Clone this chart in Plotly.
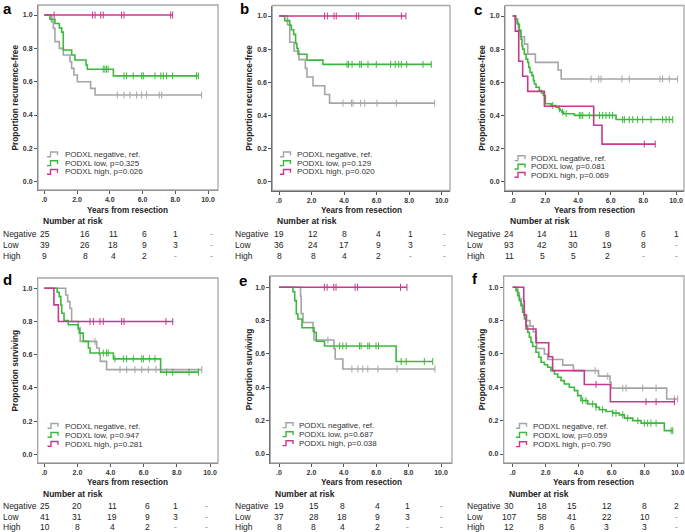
import plotly.graph_objects as go

W, H = 685, 532
FONT = "Liberation Sans, Arial, sans-serif"
C_NEG, C_LOW, C_HIGH = "#a5a5a5", "#3cb83c", "#c8388c"

# ---------------- shared labels ----------------
x_tick_vals = [0, 2, 4, 6, 8, 10]
x_tick_text = [".0", "2.0", "4.0", "6.0", "8.0", "10.0"]
y_tick_vals = [0, 0.2, 0.4, 0.6, 0.8, 1.0]
y_tick_text = ["0.0", "0.2", "0.4", "0.6", "0.8", "1.0"]
group_labels = ["Negative", "Low", "High"]
panel_letters = ["a", "b", "c", "d", "e", "f"]
y_titles = ["Proportion recurrence-free"] * 3 + ["Proportion surviving"] * 3
x_title = "Years from resection"

# ---------------- panel a ----------------
a_neg_t = [0.45, 0.55, 0.65, 0.92, 1.16, 1.57, 1.67, 1.81, 2.02, 2.83, 3.1]
a_neg_s = [0.96, 0.92, 0.84, 0.80, 0.76, 0.72, 0.68, 0.64, 0.60, 0.56, 0.52]
a_neg_c = [4.46, 4.87, 5.23, 5.64, 5.95, 6.25, 7.02, 7.17, 9.61]
a_low_t = [0.35, 0.65, 0.92, 1.06, 1.16, 1.67, 1.87, 2.55, 2.63, 4.22]
a_low_s = [0.974, 0.949, 0.923, 0.897, 0.79, 0.76, 0.73, 0.70, 0.675, 0.635]
a_low_c = [3.6, 3.7, 3.8, 3.9, 4.87, 5.03, 5.43, 5.95, 6.05, 6.76, 7.12, 7.27, 7.47, 7.84, 9.3, 9.41]
a_high_t = []
a_high_s = []
a_high_c = [0.6, 2.95, 3.1, 3.45, 3.6, 4.72, 4.87, 7.72, 7.84]
a_p = ["0.325", "0.026"]
a_risk_neg = ["25", "16", "11", "6", "1", "-"]
a_risk_low = ["39", "26", "18", "9", "3", "-"]
a_risk_high = ["9", "8", "4", "2", "-", "-"]

# ---------------- panel b ----------------
b_neg_t = [0.52, 0.66, 0.92, 1.23, 1.62, 1.72, 2.09, 2.81, 3.11]
b_neg_s = [0.947, 0.842, 0.789, 0.737, 0.684, 0.632, 0.579, 0.526, 0.474]
b_neg_c = [3.93, 4.45, 4.55, 5.02, 5.27, 6.02, 7.21, 9.57]
b_low_t = [0.35, 0.66, 0.76, 0.9, 1.02, 1.1, 1.17, 1.72, 2.7]
b_low_s = [0.972, 0.944, 0.917, 0.889, 0.835, 0.805, 0.769, 0.734, 0.708]
b_low_c = [4.18, 4.28, 4.49, 4.96, 5.06, 5.47, 5.98, 6.86, 7.15, 7.36, 7.52, 7.85, 8.85, 9.36]
b_high_t = []
b_high_s = []
b_high_c = [2.8, 2.97, 3.38, 3.52, 4.75, 4.9, 7.52, 7.8]
b_p = ["0.129", "0.020"]
b_risk_neg = ["19", "12", "8", "4", "1", "-"]
b_risk_low = ["36", "24", "17", "9", "3", "-"]
b_risk_high = ["8", "8", "4", "2", "-", "-"]

# ---------------- panel c ----------------
c_neg_t = [0.2, 0.35, 0.47, 0.72, 0.92, 1.39, 2.78, 2.97]
c_neg_s = [0.958, 0.917, 0.875, 0.83, 0.77, 0.72, 0.674, 0.62]
c_neg_c = [4.8, 5.27, 5.41, 6.69, 7.14, 9.02, 9.18, 9.59, 10.1]
c_low_t = [0.16, 0.3, 0.41, 0.51, 0.57, 0.61, 0.71, 0.82, 0.92, 0.98, 1.06, 1.18, 1.27, 1.33,
           1.43, 1.63, 1.76, 1.88, 2.0, 2.35, 2.65, 2.82, 2.9, 3.02, 3.12, 3.78, 6.33]
c_low_s = [0.98, 0.95, 0.91, 0.86, 0.82, 0.80, 0.77, 0.74, 0.72, 0.69, 0.66, 0.64, 0.61, 0.59,
           0.57, 0.55, 0.535, 0.52, 0.47, 0.46, 0.45, 0.44, 0.43, 0.42, 0.41, 0.40, 0.375]
c_low_c = [2.45, 2.86, 3.06, 3.27, 4.08, 4.18, 4.29, 4.69, 5.31, 5.51, 5.71, 5.92, 6.12, 6.73,
           6.84, 7.14, 7.35, 7.65, 7.96, 8.47, 9.18, 9.39, 9.59, 9.8]
c_high_t = [0.16, 0.37, 0.61, 0.92, 1.94, 4.96, 5.47]
c_high_s = [0.909, 0.727, 0.636, 0.545, 0.455, 0.341, 0.227]
c_high_c = [8.06, 8.73]
c_p = ["0.081", "0.069"]
c_risk_neg = ["24", "14", "11", "8", "6", "1"]
c_risk_low = ["93", "42", "30", "19", "8", "-"]
c_risk_high = ["11", "5", "5", "2", "-", "-"]

# ---------------- panel d ----------------
d_neg_t = [1.29, 1.41, 1.55, 1.65, 2.05, 2.17, 3.16, 3.32, 3.38, 3.76]
d_neg_s = [0.96, 0.92, 0.88, 0.80, 0.76, 0.68, 0.64, 0.60, 0.56, 0.51]
d_neg_c = [3.06, 4.57, 4.97, 5.47, 5.88, 6.28, 6.74, 9.5]
d_low_t = [0.78, 0.9, 1.0, 1.05, 1.19, 1.45, 2.05, 2.11, 2.35, 2.66, 2.76, 4.17, 7.02]
d_low_s = [0.976, 0.95, 0.90, 0.85, 0.805, 0.78, 0.755, 0.73, 0.68, 0.64, 0.61, 0.575, 0.495]
d_low_c = [3.56, 3.76, 3.86, 4.26, 4.77, 4.97, 5.37, 5.88, 5.98, 6.34, 6.68, 7.38, 7.75, 8.73, 9.3]
d_high_t = [0.58, 0.85]
d_high_s = [0.9, 0.8]
d_high_c = [2.76, 2.96, 3.36, 3.56, 4.67, 4.81, 7.34, 7.75]
d_p = ["0.947", "0.281"]
d_risk_neg = ["25", "20", "11", "6", "1", "-"]
d_risk_low = ["41", "31", "19", "9", "3", "-"]
d_risk_high = ["10", "8", "4", "2", "-", "-"]

# ---------------- panel e ----------------
e_neg_t = [1.33, 1.37, 1.48, 2.1, 2.16, 3.39, 3.47, 3.94]
e_neg_s = [0.947, 0.842, 0.789, 0.737, 0.684, 0.632, 0.57, 0.51]
e_neg_c = [3.02, 4.5, 4.87, 5.17, 5.48, 6.1, 7.29, 9.63]
e_low_t = [0.86, 0.97, 1.07, 1.17, 1.42, 2.16, 2.3, 2.81, 7.23]
e_low_s = [0.973, 0.92, 0.84, 0.81, 0.757, 0.73, 0.676, 0.648, 0.555]
e_low_c = [3.74, 3.94, 4.15, 4.97, 5.07, 5.48, 5.58, 5.99, 6.14, 7.54, 7.85, 8.97, 9.49]
e_high_t = []
e_high_s = []
e_high_c = [2.8, 2.97, 3.38, 3.52, 4.7, 4.85, 7.5, 7.9]
e_p = ["0.687", "0.038"]
e_risk_neg = ["19", "15", "8", "4", "1", "-"]
e_risk_low = ["37", "28", "18", "9", "3", "-"]
e_risk_high = ["8", "8", "4", "2", "-", "-"]

# ---------------- panel f ----------------
f_neg_t = [0.3, 0.4, 0.5, 0.6, 0.71, 0.85, 1.05, 1.25, 1.41, 1.45, 1.92, 2.12, 3.03, 3.68,
           5.2, 5.9, 5.96, 9.33]
f_neg_s = [0.967, 0.933, 0.9, 0.867, 0.833, 0.8, 0.767, 0.733, 0.70, 0.633, 0.60, 0.567,
           0.533, 0.50, 0.467, 0.43, 0.395, 0.33]
f_neg_c = [5.0, 5.76, 6.67, 6.87, 7.88, 8.69, 9.8, 10.0]
f_low_t = [0.2, 0.3, 0.4, 0.5, 0.6, 0.71, 0.81, 0.91, 1.01, 1.11, 1.21, 1.41, 1.58, 1.72, 1.92,
           2.12, 2.32, 2.53, 2.73, 2.93, 3.13, 3.43, 3.74, 3.94, 4.14, 4.55, 5.05, 5.25, 5.66,
           6.06, 6.46, 6.77, 7.27, 7.78, 9.19]
f_low_s = [0.98, 0.95, 0.92, 0.89, 0.85, 0.81, 0.77, 0.73, 0.70, 0.67, 0.645, 0.61, 0.58, 0.55,
           0.535, 0.52, 0.50, 0.48, 0.46, 0.44, 0.42, 0.40, 0.38, 0.35, 0.32, 0.30, 0.28, 0.265,
           0.255, 0.245, 0.235, 0.215, 0.20, 0.185, 0.14]
f_low_c = [4.24, 4.44, 4.85, 5.05, 5.45, 6.06, 6.26, 6.67, 6.97, 7.58, 7.98, 8.18, 8.38, 8.69,
           9.6, 9.7]
f_high_t = [0.67, 0.7, 0.81, 1.41, 2.18, 2.42, 4.34, 5.92]
f_high_s = [0.917, 0.833, 0.75, 0.667, 0.583, 0.5, 0.417, 0.313]
f_high_c = [5.05, 8.08, 8.69, 9.8]
f_p = ["0.059", "0.790"]
f_risk_neg = ["30", "18", "15", "12", "8", "2"]
f_risk_low = ["107", "58", "41", "22", "10", "-"]
f_risk_high = ["12", "8", "6", "3", "3", "-"]

panels_data = [
    (a_neg_t, a_neg_s, a_neg_c, a_low_t, a_low_s, a_low_c, a_high_t, a_high_s, a_high_c, a_p,
     a_risk_neg, a_risk_low, a_risk_high),
    (b_neg_t, b_neg_s, b_neg_c, b_low_t, b_low_s, b_low_c, b_high_t, b_high_s, b_high_c, b_p,
     b_risk_neg, b_risk_low, b_risk_high),
    (c_neg_t, c_neg_s, c_neg_c, c_low_t, c_low_s, c_low_c, c_high_t, c_high_s, c_high_c, c_p,
     c_risk_neg, c_risk_low, c_risk_high),
    (d_neg_t, d_neg_s, d_neg_c, d_low_t, d_low_s, d_low_c, d_high_t, d_high_s, d_high_c, d_p,
     d_risk_neg, d_risk_low, d_risk_high),
    (e_neg_t, e_neg_s, e_neg_c, e_low_t, e_low_s, e_low_c, e_high_t, e_high_s, e_high_c, e_p,
     e_risk_neg, e_risk_low, e_risk_high),
    (f_neg_t, f_neg_s, f_neg_c, f_low_t, f_low_s, f_low_c, f_high_t, f_high_s, f_high_c, f_p,
     f_risk_neg, f_risk_low, f_risk_high),
]

# ---------------- layout geometry (pixels) ----------------
# frame box L, R, T, B ; pixel of x=0, x=10, y=1, y=0
frames = [
    (38, 218, 5, 190, 44.3, 208, 15, 181.7),
    (272.3, 450, 5.5, 190.5, 279, 441.7, 16, 181.7),
    (505, 684, 5.5, 190.5, 512.7, 676, 16, 181.7),
    (37.7, 218, 278, 463, 44.3, 210, 288.3, 454.3),
    (270.3, 452, 276, 463, 279, 441, 287.3, 454),
    (503.7, 684, 276, 463, 512.7, 677.7, 287.3, 454),
]
# risk-table column centres (data units) per panel
risk_cols = [
    [0.04, 2.5, 4.2, 6.1, 8.0, 10.2],
    [0.0, 2.1, 4.0, 6.1, 8.1, 10.2],
    [-0.2, 1.8, 3.7, 5.8, 8.0, 10.0],
    [0.04, 2.0, 4.1, 6.2, 7.9, 9.8],
    [0.0, 2.15, 3.9, 6.1, 7.95, 10.0],
    [-0.25, 1.75, 3.6, 5.7, 8.0, 9.9],
]
row_label_x = [0.5, 233, 465, 0.5, 233, 465]
ytitle_x = [14, 248.7, 481.7, 14, 248.7, 481.7]
letter_pos = [(7.5, 9), (244, 8.5), (477.5, 9.5), (7.5, 279), (243, 280.5), (475, 278.5)]
table_y = [(210, 221.5, 234, 245, 256)] * 3 + [(482.5, 493.5, 506, 516.7, 527)] * 3
legend_pos = [
    (47, 62.7, [154.5, 163.3, 172]),
    (280, 294.7, [154.5, 163.3, 172]),
    (514.5, 528.7, [158.3, 166.7, 175]),
    (47.5, 62.7, [426, 435, 444]),
    (282.5, 297, [425.3, 434.3, 443.3]),
    (516, 531, [426, 435, 444.3]),
]


def px(x):
    return x / W


def py(y):
    return 1 - y / H


def step_curve(t, s, c):
    end = max(list(c) + list(t))
    xs = [0] + list(t) + [end]
    ys = [1.0] + list(s) + [s[-1] if s else 1.0]
    return xs, ys


def surv_at(t, s, x):
    v = 1.0
    for ti, si in zip(t, s):
        if ti <= x:
            v = si
    return v


fig = go.Figure()
annotations = []
shapes = []
colors = [C_NEG, C_LOW, C_HIGH]

for i, pdat in enumerate(panels_data):
    xa = "x" if i == 0 else f"x{i+1}"
    ya = "y" if i == 0 else f"y{i+1}"
    L, R, T, B, x0p, x10p, y1p, y0p = frames[i]
    sx = (x10p - x0p) / 10.0
    sy = (y0p - y1p)
    xr = [(L - x0p) / sx, (R - x0p) / sx]
    yr = [(y0p - B) / sy, (y0p - T) / sy]

    groups = [(pdat[0], pdat[1], pdat[2]), (pdat[3], pdat[4], pdat[5]), (pdat[6], pdat[7], pdat[8])]
    for g, (t, s, c) in enumerate(groups):
        xs, ys = step_curve(t, s, c)
        fig.add_trace(go.Scatter(x=xs, y=ys, mode="lines", xaxis=xa, yaxis=ya,
                                 line=dict(shape="hv", width=1.6, color=colors[g]),
                                 showlegend=False, hoverinfo="skip"))
        fig.add_trace(go.Scatter(x=c, y=[surv_at(t, s, ci) for ci in c], mode="markers",
                                 xaxis=xa, yaxis=ya, showlegend=False, hoverinfo="skip",
                                 marker=dict(symbol="line-ns", size=5,
                                             line=dict(width=1, color=colors[g]))))

    key = "" if i == 0 else str(i + 1)
    fig.layout["xaxis" + key] = dict(
        domain=[px(L), px(R)], range=xr, anchor=ya, tickvals=x_tick_vals, ticktext=x_tick_text,
        ticks="outside", ticklen=3, tickcolor="#555", showline=True, linecolor="#555",
        linewidth=1, showgrid=False, zeroline=False,
        tickfont=dict(size=7, color="#333", family=FONT, weight="bold"))
    fig.layout["yaxis" + key] = dict(
        domain=[py(B), py(T)], range=yr, anchor=xa, tickvals=y_tick_vals, ticktext=y_tick_text,
        ticks="outside", ticklen=3, tickcolor="#555", showline=True, linecolor="#555",
        linewidth=1, showgrid=False, zeroline=False,
        tickfont=dict(size=7, color="#333", family=FONT, weight="bold"))

    # grey frame
    shapes.append(dict(type="rect", xref=xa + " domain", yref=ya + " domain", x0=0, x1=1,
                       y0=0, y1=1, line=dict(color="#a8a8a8", width=1.3), layer="above"))

    # axis titles
    ty, tn, r1, r2, r3 = table_y[i]
    annotations.append(dict(text=x_title, x=px((L + R) / 2), y=py(ty), xref="paper",
                            yref="paper", showarrow=False, xanchor="center", yanchor="middle",
                            font=dict(size=8.2, family=FONT, color="#222", weight="bold")))
    annotations.append(dict(text=y_titles[i], x=px(ytitle_x[i]), y=py((T + B) / 2),
                            xref="paper", yref="paper", showarrow=False, textangle=-90,
                            xanchor="center", yanchor="middle",
                            font=dict(size=8.3, family=FONT, color="#222", weight="bold")))
    # panel letter
    lx, ly = letter_pos[i]
    annotations.append(dict(text=panel_letters[i], x=px(lx), y=py(ly), xref="paper",
                            yref="paper", showarrow=False, xanchor="center", yanchor="middle",
                            font=dict(size=15, family=FONT, color="#000", weight="bold")))
    # risk table
    annotations.append(dict(text="Number at risk", x=px(L + 3), y=py(tn), xref="paper",
                            yref="paper", showarrow=False, xanchor="left", yanchor="middle",
                            font=dict(size=8.5, family=FONT, color="#222", weight="bold")))
    rows = [pdat[10], pdat[11], pdat[12]]
    for r, (vals, ry) in enumerate(zip(rows, [r1, r2, r3])):
        annotations.append(dict(text=group_labels[r], x=px(row_label_x[i]), y=py(ry),
                                xref="paper", yref="paper", showarrow=False, xanchor="left",
                                yanchor="middle",
                                font=dict(size=8.5, family=FONT, color="#222")))
        for cx, v in zip(risk_cols[i], vals):
            annotations.append(dict(text=v, x=cx, y=py(ry), xref=xa, yref="paper",
                                    showarrow=False, xanchor="center", yanchor="middle",
                                    font=dict(size=8.5, family=FONT,
                                              color="#888" if v == "-" else "#222")))
    # legend
    gx, tx, lys = legend_pos[i]
    leg_texts = ["PODXL negative, ref.", f"PODXL low, p={pdat[9][0]}",
                 f"PODXL high, p={pdat[9][1]}"]
    for g in range(3):
        yc = lys[g]
        path = (f"M {px(gx)},{py(yc + 2.3)} L {px(gx + 3.5)},{py(yc + 2.3)} "
                f"L {px(gx + 3.5)},{py(yc - 2.5)} L {px(gx + 10.5)},{py(yc - 2.5)} "
                f"L {px(gx + 10.5)},{py(yc + 0.8)}")
        shapes.append(dict(type="path", path=path, xref="paper", yref="paper",
                           line=dict(color=colors[g], width=1.4), layer="above"))
        annotations.append(dict(text=leg_texts[g], x=px(tx), y=py(yc), xref="paper",
                                yref="paper", showarrow=False, xanchor="left",
                                yanchor="middle",
                                font=dict(size=8, family=FONT, color="#333")))

fig.update_layout(width=W, height=H, margin=dict(l=0, r=0, t=0, b=0),
                  paper_bgcolor="white", plot_bgcolor="white",
                  annotations=annotations, shapes=shapes, showlegend=False,
                  font=dict(family=FONT))
fig.write_html("out.html", config={"displayModeBar": False},
               post_script="document.body.style.margin='0';document.body.style.overflow='hidden';")
